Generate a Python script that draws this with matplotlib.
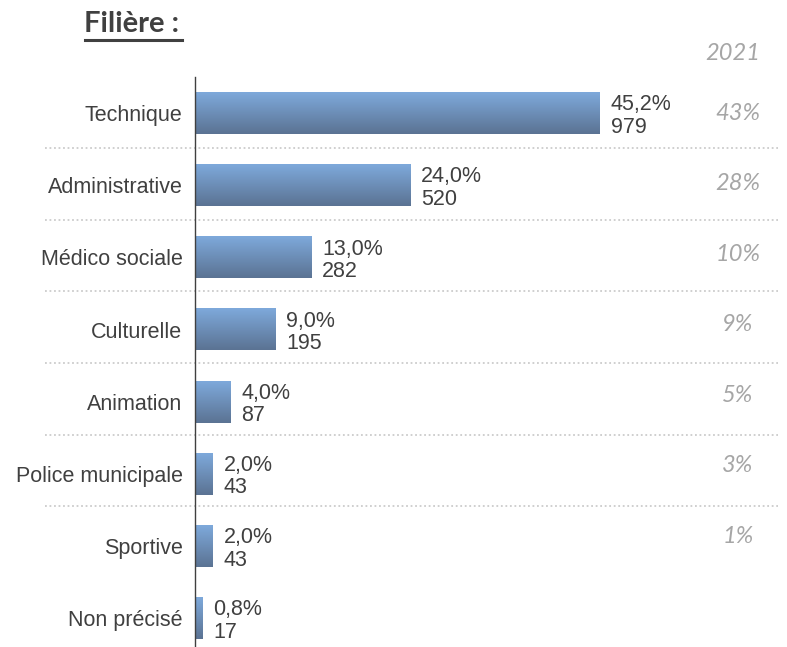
import numpy as np
import matplotlib
matplotlib.use("Agg")
import matplotlib.pyplot as plt
import matplotlib.transforms as mtransforms
from matplotlib.colors import LinearSegmentedColormap

# data
categories = ["Technique", "Administrative", "Médico sociale", "Culturelle",
              "Animation", "Police municipale", "Sportive", "Non précisé"]
pct = [45.2, 24.0, 13.0, 9.0, 4.0, 2.0, 2.0, 0.8]
counts = [979, 520, 282, 195, 87, 43, 43, 17]
pct_2021 = ["43%", "28%", "10%", "9%", "5%", "3%", "1%"]
header_2021 = "2021"

W, H = 787, 647
fig = plt.figure(figsize=(W / 100, H / 100), dpi=100)
ax = fig.add_axes([195 / W, 0, (W - 195) / W, (H - 77) / H])

dark_text = "#404040"
grey_text = "#a6a6a6"
cmap = LinearSegmentedColormap.from_list("bar", ["#7ea9db", "#5b7393"])
grad = np.linspace(0, 1, 64).reshape(-1, 1)

bar_h = 0.58
y = np.arange(len(categories))
for yi, v, n in zip(y, pct, counts):
    ax.imshow(grad, cmap=cmap, aspect="auto", interpolation="bicubic",
              extent=(0, v, yi + bar_h / 2, yi - bar_h / 2), zorder=2)
    ax.text(v + 1.2, yi + 0.04, f"{v:.1f}%".replace(".", ",") + f"\n{n}",
            va="center", ha="left", fontsize=15.5, color=dark_text,
            family="Liberation Sans", linespacing=1.08)

ax.set_xlim(0, (W - 195) / 8.96)
ax.set_ylim(len(categories) - 0.6, -0.5)

ax.set_yticks(y)
ax.set_yticklabels(categories, fontsize=15.5, color=dark_text, family="Liberation Sans")
ax.tick_params(axis="y", length=0, pad=9)
ax.set_xticks([])
for s in ["top", "right", "bottom"]:
    ax.spines[s].set_visible(False)
ax.spines["left"].set_color("#404040")
ax.spines["left"].set_linewidth(1.0)

# 2021 column and separators
trans = mtransforms.blended_transform_factory(fig.transFigure, ax.transData)
step = 0.977
for i, lab in enumerate(pct_2021):
    ax.text(738 / W, i * step, lab, transform=trans, ha="center", va="center",
            fontsize=17, color=grey_text, style="italic", family="Lato")
for i in range(len(pct_2021) - 1):
    yy = (i + 0.5) * step + 0.015 * i
    ax.plot([45 / W, 778 / W], [yy, yy], transform=trans, color="#cccccc",
            lw=1.3, ls=(0, (1, 1.5)), clip_on=False, zorder=1)

fig.text(733 / W, 1 - 53 / H, header_2021, ha="center", va="center",
         fontsize=17, color=grey_text, style="italic", family="Lato")

# title
fig.text(84 / W, 1 - 24 / H, "Filière :", ha="left", va="center",
         fontsize=21, fontweight="bold", color=dark_text, family="Lato")
fig.add_artist(plt.Line2D([85 / W, 182 / W], [1 - 40 / H, 1 - 40 / H],
                          color=dark_text, lw=2.2))

fig.savefig("out.png", dpi=100)
